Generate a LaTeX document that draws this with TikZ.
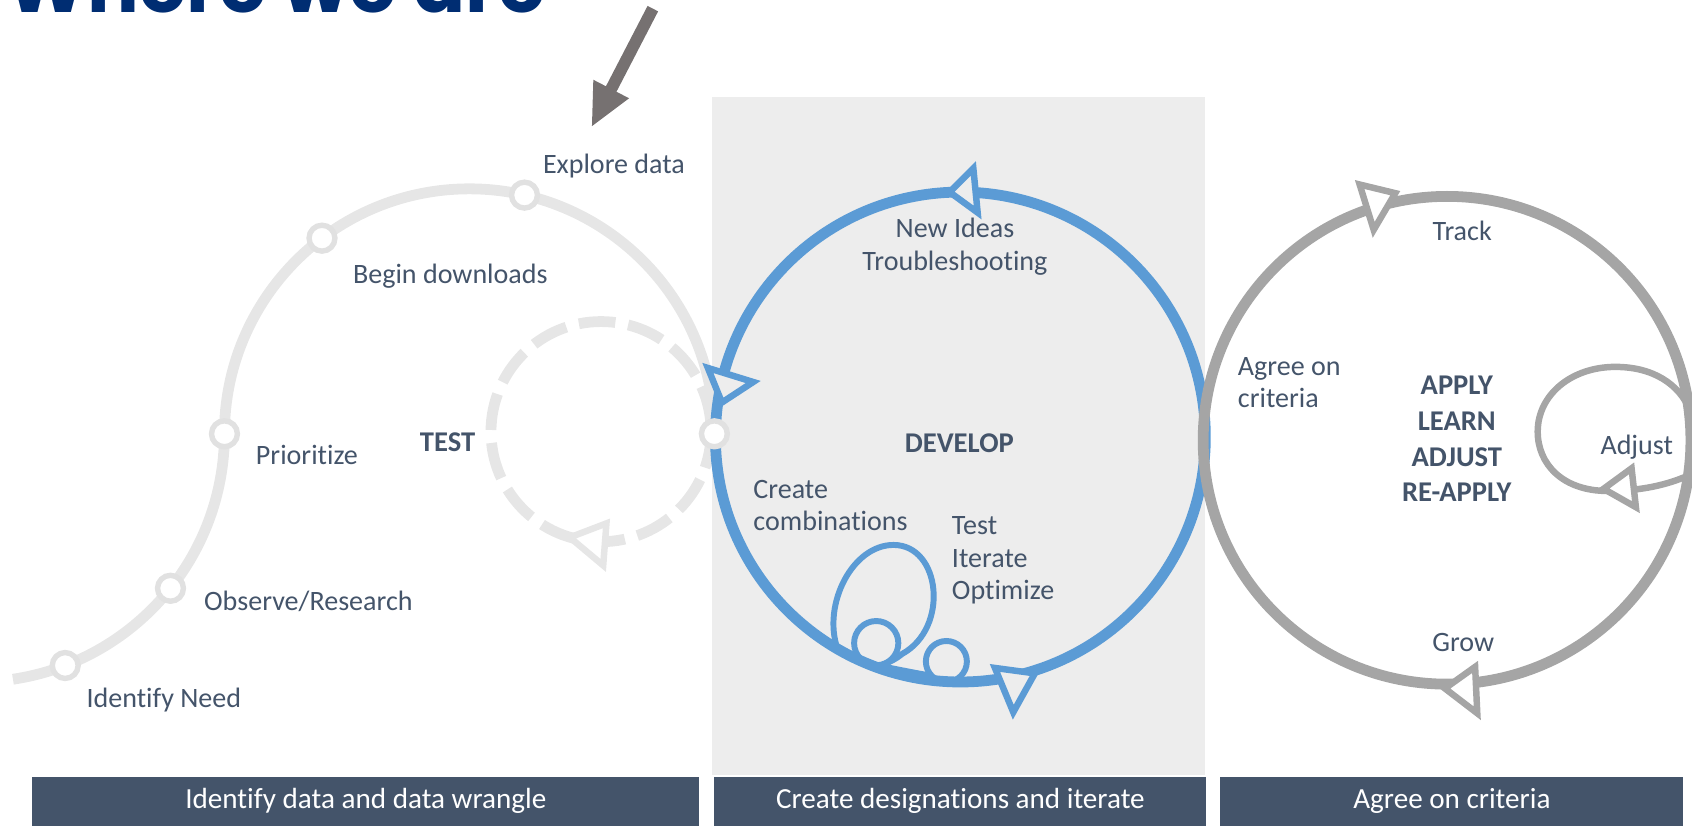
\documentclass[tikz,border=0pt]{standalone}
\usepackage{fontspec}
\setmainfont{Carlito}[Ligatures=CommonOff]
\newfontfamily\titlefont{Poppins}
\usetikzlibrary{arrows.meta,calc}
\definecolor{txt}{HTML}{44546A}
\definecolor{panel}{HTML}{EDEDED}
\definecolor{lgray}{HTML}{E6E6E6}
\definecolor{ringC}{HTML}{E1E1E1}
\definecolor{blueC}{HTML}{5B9BD5}
\definecolor{grayC}{HTML}{A5A5A5}
\definecolor{arrowC}{HTML}{767171}
\definecolor{navy}{HTML}{002D72}
\begin{document}
\begin{tikzpicture}[x=1pt,y=-1pt,
  lbl/.style={text=txt,inner sep=0pt,font=\fontsize{26}{31}\selectfont},
  blbl/.style={text=txt,inner sep=0pt,font=\fontsize{26.5}{31}\selectfont\bfseries},
  ringmark/.style={circle,draw=ringC,line width=5pt,fill=white,minimum size=24pt,inner sep=0pt},
  tri/.style={draw=#1,line width=6pt,line join=miter},
  bar/.style={fill=txt,text=white,inner sep=0pt,minimum height=45pt,font=\fontsize{27}{31}\selectfont},
  scurve/.style={lgray,line width=10pt},
  bloop/.style={blueC,line width=5.5pt}]
\useasboundingbox (0,0) rectangle (1568,765);
% background panel
\fill[panel] (660,90) rectangle (1117,718);

% title and arrow
\node[anchor=base west,inner sep=0pt,text=navy] (title) at (6,12) {\resizebox{499pt}{!}{\titlefont\bfseries Where we are}};
\coordinate (atail) at (605,8);
\coordinate (ahead) at (548,118);
\draw[arrowC,line width=11pt,-{Triangle[length=40pt,width=34pt]}] (atail) -- (ahead);

% S curve
\coordinate (C1) at (-22,402);
\coordinate (C2) at (435,402);
\draw[scurve] ($(C1)+(81.5:230)$) arc[start angle=81.5,end angle=0,radius=230]
   arc[start angle=180,end angle=360,radius=227];

% dashed TEST loop
\coordinate (TC) at (557,400);
\draw[lgray,line width=10pt,dash pattern=on 34pt off 12pt] (TC) circle[radius=102];
\coordinate (dt1) at (528,498);
\coordinate (dt2) at (562,485);
\coordinate (dt3) at (559,524);
\draw[tri=lgray,fill=white] (dt1) -- (dt2) -- (dt3) -- cycle;

% DEVELOP circle
\coordinate (DC) at (890,405);
\draw[blueC,line width=10pt] (DC) circle[radius=227];
% inner loops
\coordinate (l0) at (776,601);
\coordinate (l1) at (828,505);
\coordinate (l2) at (836,606);
\coordinate (l3) at (815,617);
\coordinate (l4) at (862,626);
\draw[bloop] (l0) .. controls (762,560) and (790,505) .. (l1)
  .. controls (872,505) and (880,582) .. (l2)
  .. controls (830,611) and (822,615) .. (l3)
  .. controls (835,621) and (850,624) .. (l4);
\draw[bloop] (812,596) circle[radius=20.5];
\draw[bloop] (877,613) circle[radius=19];
% blue arrowheads
\draw[tri=blueC,fill=panel] (880,178) -- (902,156) -- (906,197) -- cycle;
\draw[tri=blueC,fill=panel] (656,341) -- (698,354) -- (669,373) -- cycle;
\draw[tri=blueC,fill=panel] (922,619) -- (959,624) -- (939,660) -- cycle;

% APPLY circle
\coordinate (AC) at (1341,408);
\draw[grayC,line width=10pt] (AC) circle[radius=226];
\coordinate (a0) at (1566,440);
\coordinate (a1) at (1490,455);
\coordinate (a2) at (1425,400);
\coordinate (a3) at (1497,340);
\coordinate (a4) at (1566,380);
\draw[grayC,line width=6pt] (a0) .. controls (1540,452) and (1512,455) .. (a1)
  .. controls (1448,455) and (1425,430) .. (a2)
  .. controls (1425,366) and (1456,340) .. (a3)
  .. controls (1532,340) and (1556,356) .. (a4);
\draw[tri=grayC,fill=white] (1486,453) -- (1512,434) -- (1516,470) -- cycle;
\draw[tri=grayC,fill=white] (1260,171) -- (1293,179) -- (1273,213) -- cycle;
\draw[tri=grayC,fill=white] (1339,638) -- (1367,618) -- (1369,661) -- cycle;

% markers on the S curve
\node[ringmark] (m1) at ($(C1)+(69:230)$) {};
\node[ringmark] (m2) at ($(C1)+(38.5:230)$) {};
\node[ringmark] (m3) at ($(C1)+(0:230)$) {};
\node[ringmark] (m4) at ($(C2)+(233:227)$) {};
\node[ringmark] (m5) at ($(C2)+(283:227)$) {};
\node[ringmark] (m6) at ($(C2)+(0:227)$) {};

% labels left
\node[lbl,anchor=base west] (t1) at (503,161) {Explore data};
\node[lbl,anchor=base west] (t2) at (327,263) {Begin downloads};
\node[lbl,anchor=base west] (t3) at (237,430) {Prioritize};
\node[blbl,anchor=base west] (t4) at (389,418) {TEST};
\node[lbl,anchor=base west] (t5) at (189,566) {Observe/Research};
\node[lbl,anchor=base west] (t6) at (80,656) {Identify Need};

% labels develop
\node[lbl,anchor=base] (d1) at (885,220) {New Ideas};
\node[lbl,anchor=base] (d2) at (885,251) {Troubleshooting};
\node[blbl,anchor=base] (d3) at (889,419) {DEVELOP};
\node[lbl,anchor=base west] (d4) at (698,462) {Create};
\node[lbl,anchor=base west] (d5) at (698,492) {combinations};
\node[lbl,anchor=base west] (d6) at (882,495) {Test};
\node[lbl,anchor=base west] (d7) at (882,526) {Iterate};
\node[lbl,anchor=base west] (d8) at (882,556) {Optimize};

% labels apply
\node[lbl,anchor=base] (r1) at (1355,223) {Track};
\node[lbl,anchor=base west] (r2) at (1147,348) {Agree on};
\node[lbl,anchor=base west] (r3) at (1147,378) {criteria};
\node[blbl,anchor=base] (r4) at (1350,366) {APPLY};
\node[blbl,anchor=base] (r5) at (1350,399) {LEARN};
\node[blbl,anchor=base] (r6) at (1350,432) {ADJUST};
\node[blbl,anchor=base] (r7) at (1350,465) {RE-APPLY};
\node[lbl,anchor=base west] (r8) at (1483,421) {Adjust};
\node[lbl,anchor=base] (r9) at (1356,604) {Grow};

% bottom bars
\node[bar,minimum width=618pt] (b1) at (339,742.5) {Identify data and data wrangle};
\node[bar,minimum width=456pt] (b2) at (890,742.5) {Create designations and iterate};
\node[bar,minimum width=429pt] (b3) at (1345.5,742.5) {Agree on criteria};
\end{tikzpicture}
\end{document}
